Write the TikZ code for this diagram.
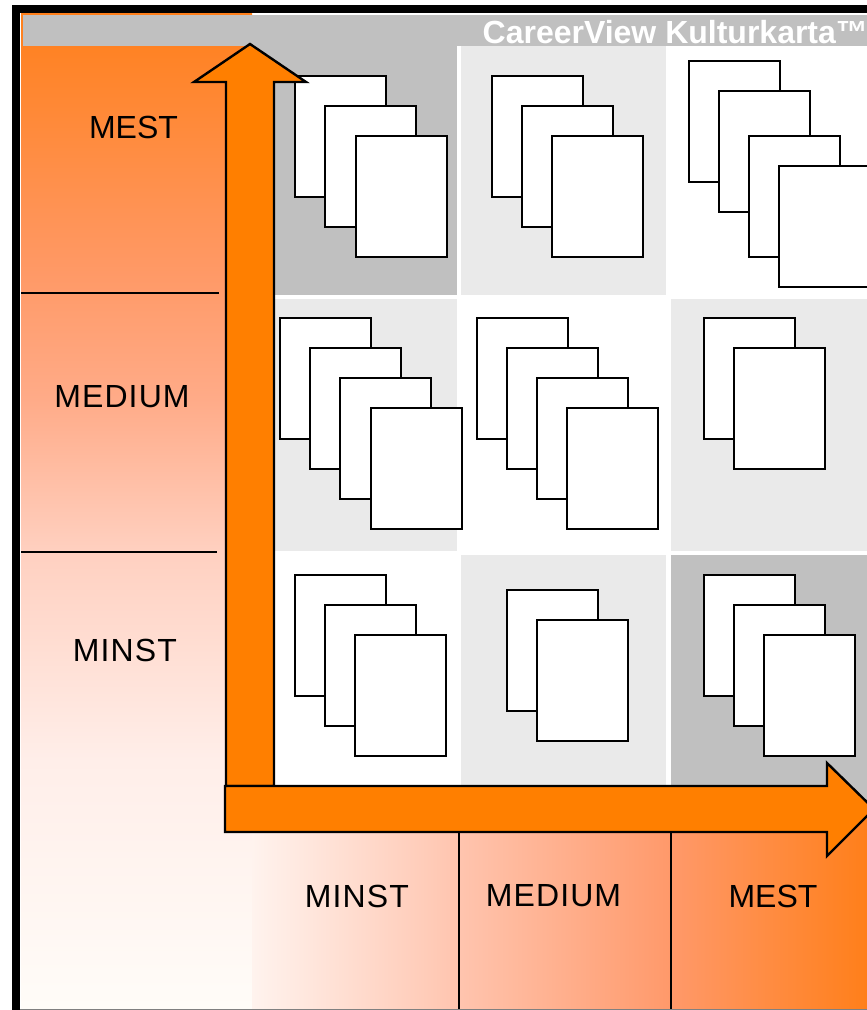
\documentclass[tikz,border=0pt]{standalone}
\usepackage{fontspec}
\setmainfont{Liberation Sans}
\newfontfamily\spaced[LetterSpace=3.5]{Liberation Sans}
\definecolor{arrowor}{HTML}{FF7F00}
\definecolor{cellgray}{HTML}{C0C0C0}
\definecolor{celllight}{HTML}{EAEAEA}
\definecolor{orA}{HTML}{FF7F1A}
\definecolor{orB}{HTML}{FF9966}
\definecolor{orC}{HTML}{FFAB88}
\definecolor{orD}{HTML}{FFD0C0}
\definecolor{orE}{HTML}{FFEEE9}
\definecolor{orF}{HTML}{FFFCF8}
\definecolor{orG}{HTML}{FFF3EE}
\definecolor{orH}{HTML}{FFC4AE}
\definecolor{orI}{HTML}{FF996A}
\pgfdeclareverticalshading{sideshade}{100bp}{
  color(0bp)=(orF); color(25bp)=(orF);
  color(37.5bp)=(orE); color(48bp)=(orD); color(55.6bp)=(orC); color(62bp)=(orB); color(75bp)=(orA); color(100bp)=(orA)}
\pgfdeclarehorizontalshading{baseshade}{100bp}{
  color(0bp)=(orG); color(25bp)=(orG);
  color(42bp)=(orH); color(59bp)=(orI); color(75bp)=(orA); color(100bp)=(orA)}
\tikzset{every node/.style={draw=none,inner sep=0pt,outer sep=0pt}}
\tikzset{t/.style={rectangle,font=\fontsize{32}{36}\selectfont}}
\tikzset{ts/.style={rectangle,font=\fontsize{32}{36}\selectfont\spaced}}
\tikzset{card/.style={rectangle,draw=black,fill=white,line width=1.8pt,anchor=north west,minimum width=91,minimum height=121}}
\tikzset{rule/.style={line width=2.2pt}}
\tikzset{block/.style={draw=black,fill=arrowor,line width=2.4pt}}

\begin{document}
\begin{tikzpicture}[x=1pt,y=-1pt]
      \useasboundingbox (0,0) rectangle (867,1010);
      % panels
      \shade[shading=sideshade] (21,13) rectangle (252,1009);
      \shade[shading=baseshade] (252,812) rectangle (867,1009);
      \fill[cellgray] (23,15) rectangle (867,46);
      \fill[cellgray] (252,46) rectangle (457,295);
      \fill[celllight] (461,46) rectangle (666,295);
      \fill[celllight] (275,299) rectangle (457,551);
      \fill[celllight] (671,299) rectangle (867,551);
      \fill[celllight] (461,555) rectangle (666,785);
      \fill[cellgray] (671,555) rectangle (867,812);
      \fill[black] (12,5) rectangle (867,13);
      \fill[black] (12,5) rectangle (20,1010);
      \fill[gray] (20,1009) rectangle (867,1010);
      \node[t,font=\fontsize{32}{36}\selectfont\bfseries,text=white,anchor=east] (title) at (868,32) {CareerView Kulturkarta™};
      % side scale
      \node[t] (sidemest) at (133.5,127) {MEST};
      \node[ts] (sidemedium) at (122,397) {MEDIUM};
      \node[ts] (sideminst) at (125,650) {MINST};
      \coordinate (ruleAa) at (21,293);
      \coordinate (ruleAb) at (219,293);
      \coordinate (ruleBa) at (21,552);
      \coordinate (ruleBb) at (217,552);
      \draw[rule] (ruleAa) -- (ruleAb);
      \draw[rule] (ruleBa) -- (ruleBb);
      % base scale
      \node[ts] (baseminst) at (357,896) {MINST};
      \node[ts] (basemedium) at (553.5,896) {MEDIUM};
      \node[t] (basemest) at (773,896) {MEST};
      \coordinate (ruleCa) at (459,832);
      \coordinate (ruleCb) at (459,1009);
      \coordinate (ruleDa) at (671,832);
      \coordinate (ruleDb) at (671,1009);
      \draw[rule] (ruleCa) -- (ruleCb);
      \draw[rule] (ruleDa) -- (ruleDb);
      % cards, top row
      \node[card] (a1) at (295,76) {};
      \node[card] (a2) at (325,106) {};
      \node[card] (a3) at (356,136) {};
      \node[card] (b1) at (492,76) {};
      \node[card] (b2) at (522,106) {};
      \node[card] (b3) at (552,136) {};
      \node[card] (c1) at (689,61) {};
      \node[card] (c2) at (719,91) {};
      \node[card] (c3) at (749,136) {};
      \node[card] (c4) at (779,166) {};
      % cards, middle row
      \node[card] (d1) at (280,318) {};
      \node[card] (d2) at (310,348) {};
      \node[card] (d3) at (340,378) {};
      \node[card] (d4) at (371,408) {};
      \node[card] (e1) at (477,318) {};
      \node[card] (e2) at (507,348) {};
      \node[card] (e3) at (537,378) {};
      \node[card] (e4) at (567,408) {};
      \node[card] (f1) at (704,318) {};
      \node[card] (f2) at (734,348) {};
      % cards, bottom row
      \node[card] (g1) at (295,575) {};
      \node[card] (g2) at (325,605) {};
      \node[card] (g3) at (355,635) {};
      \node[card] (h1) at (507,590) {};
      \node[card] (h2) at (537,620) {};
      \node[card] (i1) at (704,575) {};
      \node[card] (i2) at (734,605) {};
      \node[card] (i3) at (764,635) {};
      % axes
      \draw[block] (226,786) -- (226,82) -- (194,82) -- (250,44) -- (306,82) -- (274,82) -- (274,786) -- cycle;
      \draw[block] (225,786) -- (827,786) -- (827,763) -- (874,809) -- (827,856) -- (827,832) -- (225,832) -- cycle;
    \end{tikzpicture}
\end{document}
